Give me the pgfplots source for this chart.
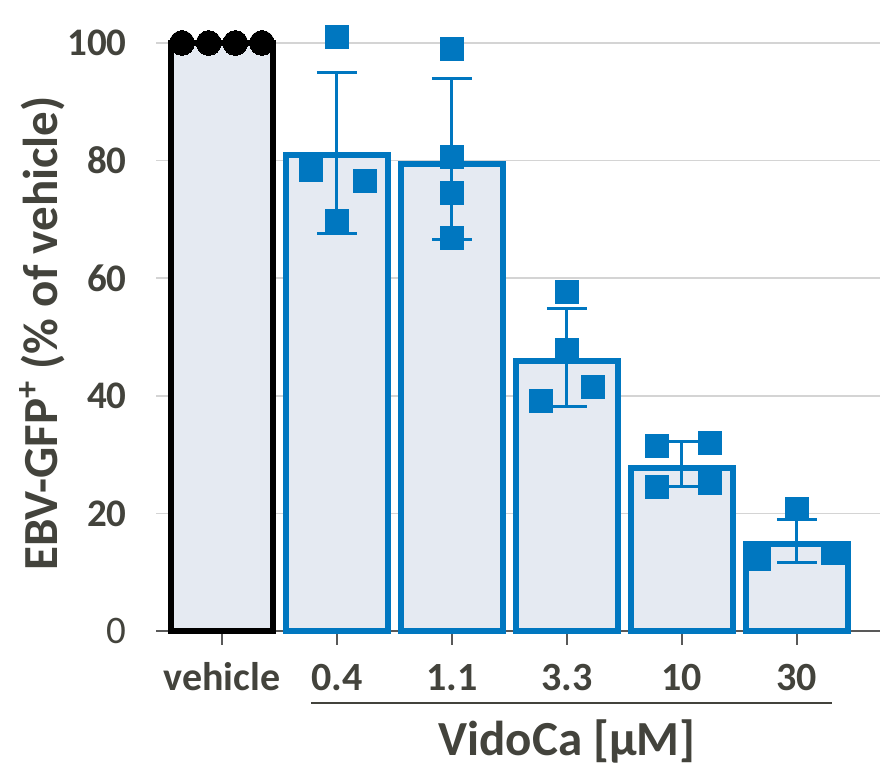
\documentclass[border=0pt]{standalone}
\usepackage{pgfplots}
\pgfplotsset{compat=1.18}
\usepackage{fontspec}
\setmainfont{Carlito}
\definecolor{myblue}{RGB}{0,119,192}
\definecolor{barfill}{RGB}{229,234,242}
\definecolor{txt}{RGB}{67,67,60}
\definecolor{axgray}{RGB}{89,89,89}
\definecolor{gridgray}{RGB}{212,212,212}
\begin{document}
\begin{tikzpicture}
\useasboundingbox (-78.25pt,-71.5pt) rectangle (362.75pt,315.5pt);
\begin{axis}[
  at={(0pt,0pt)}, anchor=south west,
  scale only axis, width=361.75pt, height=294pt,
  xmin=-0.5696, xmax=5.722, ymin=0, ymax=100,
  clip=false,
  axis x line*=bottom, axis y line*=left,
  y axis line style={draw=none},
  x axis line style={draw=axgray, line width=1pt},
  xtick={0,1,2,3,4,5}, xticklabels={vehicle,0.4,1.1,3.3,10,30},
  ytick={0,20,40,60,80,100},
  yticklabels={0,\textbf{20},\textbf{40},\textbf{60},\textbf{80},\textbf{100}},
  tick align=outside, major tick length=7pt,
  xtick style={draw=axgray, line width=1pt},
  ytick style={draw=none},
  ymajorgrids, grid style={draw=gridgray, line width=0.75pt},
  xticklabel style={font=\fontsize{20}{20}\selectfont\bfseries, text=txt, anchor=base, yshift=-23pt, inner sep=0pt},
  yticklabel style={font=\fontsize{19.5}{19.5}\selectfont, text=txt, anchor=east, xshift=-7.75pt, inner sep=0pt},
  ylabel={EBV-GFP\textsuperscript{+} (\% of vehicle)},
  ylabel style={at={(axis description cs:-0.1375,0.506)}, anchor=base, font=\fontsize{24.5}{24.5}\selectfont\bfseries, text=txt, inner sep=0pt},
  xlabel={VidoCa [µM]},
  xlabel style={at={(axis description cs:0.5674,-0.2109)}, anchor=base, font=\fontsize{24.5}{24.5}\selectfont\bfseries, text=txt, inner sep=0pt},
]
% bars
\addplot[ybar, bar width=0.88, bar shift=0pt, draw=black, fill=barfill, line width=3pt] coordinates {(0,100)};
\addplot[ybar, bar width=0.88, bar shift=0pt, draw=myblue, fill=barfill, line width=3pt] coordinates {(1,81.0) (2,79.5) (3,46.0) (4,27.7) (5,14.8)};
% error bars (mean +- SD)
\addplot[draw=none, mark=none, error bars/.cd, y dir=both, y explicit,
  error bar style={draw=myblue, line width=1.5pt},
  error mark options={draw=myblue, rotate=90, mark size=10pt, line width=1.5pt}]
  coordinates {(1,81.25) +- (0,13.65) (2,80.2) +- (0,13.7) (3,46.5) +- (0,8.4) (4,28.35) +- (0,3.85) (5,15.3) +- (0,3.7)};
% vehicle replicates
\addplot[black, only marks, mark=*, mark size=6.2pt, mark options={fill=black, draw=black, line width=0pt}]
  coordinates {(-0.348,100) (-0.116,100) (0.116,100) (0.348,100)};
% treated replicates
\addplot[myblue, only marks, mark=square*, mark size=5.75pt, mark options={fill=myblue, draw=myblue, line width=0pt}]
  coordinates {
  (0.77,78.4) (1.24,76.5) (1,101) (1,69.7)
  (2,99.0) (2,80.6) (2,74.5) (2,66.8)
  (3,57.7) (3,47.8) (2.77,39.1) (3.23,41.5)
  (3.78,31.4) (4.24,32.0) (3.78,24.5) (4.24,25.2)
  (5,20.7) (4.67,12.2) (5.31,13.3)};
\end{axis}
\draw[txt, line width=1pt] (77.25pt,-36pt) -- (337.75pt,-36pt);
\end{tikzpicture}
\end{document}
